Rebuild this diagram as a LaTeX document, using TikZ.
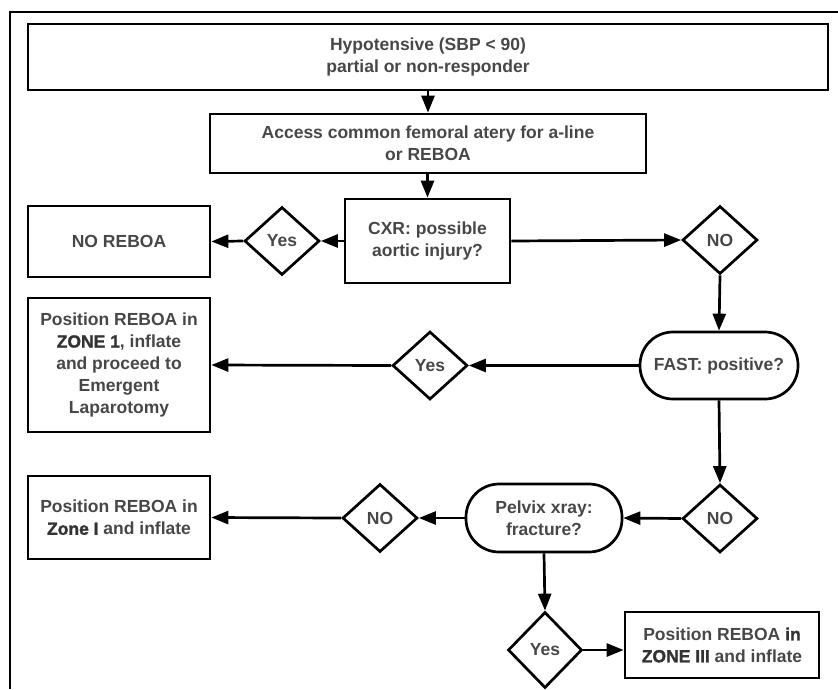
\documentclass[tikz,border=0pt]{standalone}
\usepackage{fontspec}
\setmainfont{Liberation Sans}
\usetikzlibrary{shapes.geometric,arrows.meta}
\definecolor{txt}{HTML}{474747}
\newcommand\hv[1]{{\addfontfeature{FakeBold=1.6}\color{black!80}#1}}
\tikzset{
  base/.style={draw=black, line width=2.7pt, inner sep=0pt, align=center,
    font=\fontsize{17.5}{22}\selectfont\bfseries, text=txt},
  boxx/.style={base, rectangle},
  pill/.style={base, rectangle, rounded corners=33pt},
  dia/.style={base, diamond, minimum width=75pt, minimum height=68pt},
  arr/.style={line width=2.7pt, -{Triangle[length=17pt,width=13pt]}},
}
\begin{document}
\begin{tikzpicture}[x=1pt,y=-1pt]
\useasboundingbox (0,0) rectangle (838,689);
\coordinate (fa) at (838,12);
\coordinate (fb) at (10,12);
\coordinate (fc) at (10,689);
\draw[line width=2.7pt] (fa) -- (fb) -- (fc);

\node[boxx, minimum width=800pt, minimum height=66pt] (b1) at (428,57)
  {Hypotensive (SBP < 90)\\partial or non-responder};
\node[boxx, minimum width=436pt, minimum height=59pt] (b2) at (428,143.5)
  {Access common femoral atery for a-line\\or REBOA};
\node[boxx, minimum width=165pt, minimum height=84pt] (cxr) at (427.5,241)
  {CXR: possible\\aortic injury?};
\node[dia] (yes1) at (282,241) {Yes};
\node[boxx, minimum width=182pt, minimum height=71pt] (noreboa) at (119,241.5) {NO REBOA};
\node[dia] (no1) at (720,240) {NO};
\node[pill, minimum width=158pt, minimum height=67pt] (fast) at (719,365.5) {FAST: positive?};
\node[dia] (yes2) at (430,365.5) {Yes};
\node[boxx, minimum width=182pt, minimum height=134pt] (zone1) at (119,365)
  {Position REBOA in\\\hv{ZONE 1}, inflate\\and proceed to\\Emergent\\Laparotomy};
\node[dia] (no2) at (720,518.5) {NO};
\node[pill, minimum width=156pt, minimum height=68pt] (pelvix) at (544,518) {Pelvix xray:\\fracture?};
\node[dia] (no3) at (380,518) {NO};
\node[boxx, minimum width=182pt, minimum height=83pt] (zoneI) at (119,517.5)
  {Position REBOA in\\\hv{Zone I} and inflate};
\node[dia, minimum width=74pt, minimum height=76pt] (yes3) at (545,650) {Yes};
\node[boxx, minimum width=194pt, minimum height=66pt] (zone3) at (722,645)
  {Position REBOA \hv{in}\\\hv{ZONE III} and inflate};

\draw[arr] (b1.south -| b2) -- (b2.north);
\draw[arr] (b2.south -| cxr) -- (cxr.north);
\draw[arr] (cxr.west) -- (yes1.east);
\draw[arr] (yes1.west) -- (noreboa.east);
\draw[arr] (cxr.east) -- (no1.west);
\draw[arr] (no1.south) -- (fast.north);
\draw[arr] (fast.west) -- (yes2.east);
\draw[arr] (yes2.west) -- (zone1.east);
\draw[arr] (fast.south) -- (no2.north);
\draw[arr] (no2.west) -- (pelvix.east);
\draw[arr] (pelvix.west) -- (no3.east);
\draw[arr] (no3.west) -- (zoneI.east);
\draw[arr] (pelvix.south) -- (yes3.north);
\draw[arr] (yes3.east) -- (yes3.east -| zone3.west);
\end{tikzpicture}
\end{document}
